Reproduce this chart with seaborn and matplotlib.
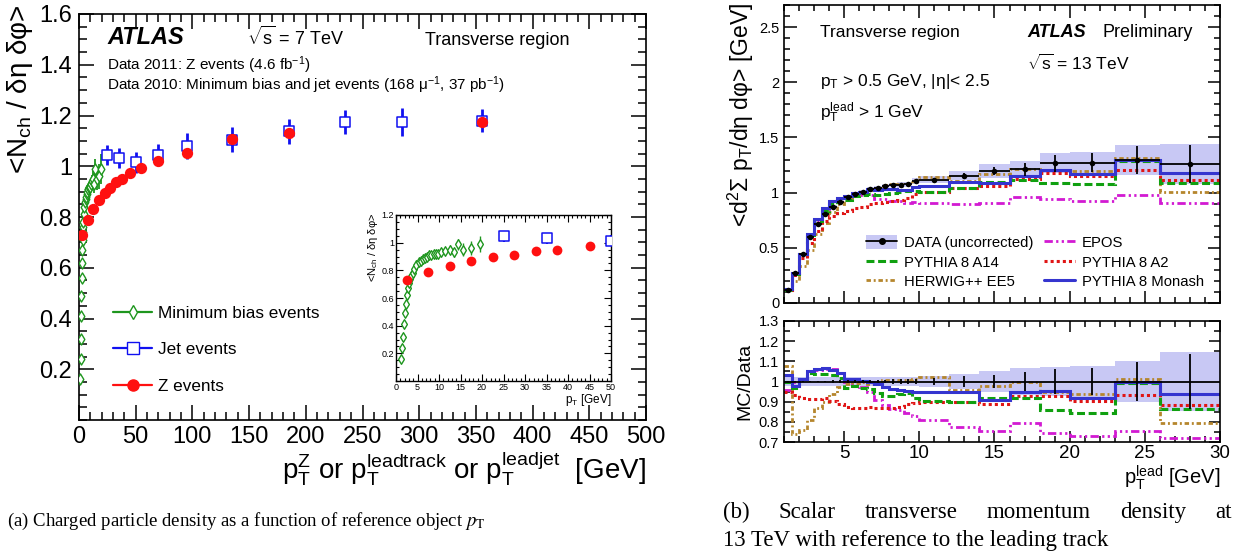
import numpy as np
import matplotlib
matplotlib.use("Agg")
import matplotlib.pyplot as plt
from matplotlib.lines import Line2D
from matplotlib.patches import Patch
from matplotlib.ticker import MultipleLocator, FormatStrFormatter
import seaborn as sns

# ---- (a) charged particle density, 7 TeV ----
mb_pt = [1.1, 1.35, 1.6, 1.85, 2.1, 2.35, 2.6, 2.85, 3.1, 3.35, 3.6, 3.85, 4.25, 4.75,
         5.25, 5.75, 6.25, 6.75, 7.25, 7.75, 8.25, 8.75, 9.25, 9.75, 10.5, 11.5, 12.5,
         13.5, 14.5, 15.5, 17.5, 19.5]
mb_val = [0.16, 0.24, 0.32, 0.41, 0.49, 0.56, 0.62, 0.67, 0.71, 0.74, 0.76, 0.78, 0.81, 0.84,
          0.86, 0.87, 0.88, 0.89, 0.90, 0.91, 0.91, 0.92, 0.92, 0.92, 0.93, 0.94, 0.95,
          0.93, 0.99, 0.95, 0.96, 0.99]
mb_err = [0.004, 0.004, 0.004, 0.004, 0.005, 0.005, 0.005, 0.005, 0.006, 0.006, 0.006, 0.006,
          0.007, 0.008, 0.009, 0.010, 0.011, 0.012, 0.013, 0.014, 0.015, 0.016, 0.017, 0.018,
          0.020, 0.025, 0.030, 0.035, 0.040, 0.045, 0.050, 0.060]

jet_pt = [25, 35, 50, 70, 95, 135, 185, 235, 285, 355]
jet_val = [1.045, 1.033, 1.015, 1.045, 1.08, 1.105, 1.138, 1.175, 1.175, 1.18]
jet_err = [0.04, 0.04, 0.04, 0.043, 0.05, 0.05, 0.05, 0.046, 0.056, 0.046]

z_pt = [2.5, 7.5, 12.5, 17.5, 22.5, 27.5, 32.5, 37.5, 45, 55, 70, 95, 135, 185, 355]
z_val = [0.728, 0.787, 0.832, 0.866, 0.896, 0.913, 0.937, 0.948, 0.974, 0.994, 1.021,
         1.054, 1.106, 1.133, 1.174]

# ---- (b) scalar pT density, 13 TeV ----
bin_edges = [1, 1.5, 2, 2.5, 3, 3.5, 4, 4.5, 5, 5.5, 6, 6.5, 7, 7.5, 8, 8.5, 9, 9.5, 10,
             12, 14, 16, 18, 20, 23, 26, 30]
data_val = [0.121, 0.273, 0.442, 0.594, 0.715, 0.806, 0.873, 0.918, 0.958, 0.988, 1.006,
            1.03, 1.04, 1.06, 1.07, 1.07, 1.076, 1.106, 1.115, 1.153, 1.196, 1.211, 1.265,
            1.271, 1.295, 1.259]
data_stat_rel = [0.004, 0.004, 0.004, 0.004, 0.004, 0.004, 0.005, 0.005, 0.005, 0.006, 0.006,
                 0.007, 0.008, 0.009, 0.010, 0.011, 0.012, 0.013, 0.015, 0.025, 0.033, 0.048,
                 0.062, 0.069, 0.097, 0.138]
data_band_rel = [0.02, 0.02, 0.02, 0.02, 0.02, 0.02, 0.02, 0.02, 0.02, 0.02, 0.02, 0.02, 0.02,
                 0.02, 0.02, 0.022, 0.022, 0.024, 0.028, 0.036, 0.053, 0.065, 0.072, 0.078,
                 0.103, 0.144]

ratio_monash = [1.03, 0.98, 1.01, 1.05, 1.06, 1.065, 1.056, 1.04, 1.012, 1.012, 1.003, 1.0,
                0.987, 0.975, 0.962, 0.957, 0.953, 0.95, 0.95, 0.95, 0.907, 0.95, 0.954,
                0.917, 1.0, 0.937]
ratio_a14 = [1.0, 0.97, 1.01, 1.04, 1.036, 1.036, 1.03, 1.017, 0.97, 0.978, 0.97, 0.962,
             0.945, 0.93, 0.93, 0.94, 0.945, 0.92, 0.905, 0.90, 0.917, 0.917, 0.857, 0.846,
             0.995, 0.862]
ratio_a2 = [0.95, 0.934, 0.917, 0.912, 0.912, 0.917, 0.904, 0.887, 0.874, 0.867, 0.867, 0.874,
            0.87, 0.867, 0.867, 0.874, 0.887, 0.895, 0.9, 0.9, 0.89, 0.929, 0.929, 0.904,
            0.934, 0.882]
ratio_ee5 = [1.075, 0.74, 0.76, 0.81, 0.87, 0.90, 0.94, 0.975, 0.99, 0.995, 1.0, 0.99, 1.0,
             1.005, 1.005, 1.005, 1.005, 1.01, 1.023, 0.957, 0.978, 1.0, 0.95, 0.94, 1.012,
             0.796]
ratio_epos = [0.96, 1.0, 1.01, 1.05, 1.055, 1.06, 1.06, 1.04, 1.0, 0.99, 0.975, 0.95, 0.91,
              0.885, 0.865, 0.86, 0.845, 0.83, 0.81, 0.775, 0.755, 0.796, 0.746, 0.73, 0.755,
              0.72]

GREEN, BLUE, RED = "#1e961e", "#1010f0", "#ff1010"
C_MONASH, C_A14, C_A2, C_EE5, C_EPOS = "#3535cf", "#10a010", "#e01515", "#b5862d", "#d21ad2"
BAND = "#c8c8f4"

sns.set_theme(style="ticks", rc={
    "axes.edgecolor": "black", "text.color": "black", "xtick.color": "black",
    "ytick.color": "black", "axes.labelcolor": "black", "axes.linewidth": 1.2,
})
plt.rcParams["font.family"] = ["Liberation Sans", "DejaVu Sans"]
plt.rcParams["mathtext.fontset"] = "custom"
plt.rcParams["mathtext.rm"] = "Liberation Sans"
plt.rcParams["mathtext.it"] = "Liberation Sans:italic"
plt.rcParams["mathtext.bf"] = "Liberation Sans:bold"

W, H = 1245, 556


def fx(px):
    return px / W


def fy(py):
    return 1 - py / H


fig = plt.figure(figsize=(W / 100, H / 100), dpi=100)

axL = fig.add_axes([fx(79), fy(420), (646 - 79) / W, (420 - 14) / H])
axI = fig.add_axes([fx(396), fy(381), (611 - 396) / W, (381 - 215) / H])
axT = fig.add_axes([fx(784), fy(303), (1220 - 784) / W, (303 - 5) / H])
axR = fig.add_axes([fx(784), fy(442), (1220 - 784) / W, (442 - 321) / H])


def root_ticks(ax, size, major, minor, width=1.1):
    ax.tick_params(which="both", direction="in", top=True, right=True, width=width,
                   labelsize=size)
    ax.tick_params(which="major", length=major)
    ax.tick_params(which="minor", length=minor)


def left_points(ax, k):
    ax.errorbar(mb_pt, mb_val, yerr=mb_err, fmt="none", ecolor=GREEN, elinewidth=1.3 * k,
                zorder=2)
    sns.scatterplot(x=mb_pt, y=mb_val, marker="d", s=32 * k, fc="white", ec=GREEN,
                    linewidth=1.0, ax=ax, zorder=3, legend=False)
    ax.errorbar(jet_pt, jet_val, yerr=jet_err, fmt="none", ecolor=BLUE, elinewidth=2.0 * k,
                zorder=2)
    sns.scatterplot(x=jet_pt, y=jet_val, marker="s", s=62 * k, fc="white", ec=BLUE,
                    linewidth=1.1, ax=ax, zorder=3, legend=False)
    sns.scatterplot(x=z_pt, y=z_val, marker="o", s=66 * k, color=RED, linewidth=0,
                    ax=ax, zorder=4, legend=False)


# ---- left panel ----
left_points(axL, 1.0)
axL.set_xlim(0, 500)
axL.set_ylim(0, 1.6)
axL.xaxis.set_major_locator(MultipleLocator(50))
axL.xaxis.set_minor_locator(MultipleLocator(10))
axL.set_yticks([0.2, 0.4, 0.6, 0.8, 1.0, 1.2, 1.4, 1.6])
axL.yaxis.set_minor_locator(MultipleLocator(0.05))
axL.yaxis.set_major_formatter(FormatStrFormatter("%g"))
root_ticks(axL, 17, 11, 6)
axL.tick_params(axis="x", pad=4)
axL.tick_params(axis="y", pad=5)
axL.set_xlabel("")
axL.set_ylabel("")

h_mb = Line2D([], [], color=GREEN, marker="d", mfc="white", mec=GREEN, ms=7, lw=1.6)
h_jet = Line2D([], [], color=BLUE, marker="s", mfc="white", mec=BLUE, ms=8, lw=1.6)
h_z = Line2D([], [], color=RED, marker="o", mec=RED, ms=8, lw=1.6)
axL.legend([h_mb, h_jet, h_z], ["Minimum bias events", "Jet events", "Z events"],
           loc="upper left", bbox_to_anchor=((113 - 79) / 567, (420 - 306) / 406),
           frameon=False, fontsize=12.3, handlelength=2.3, labelspacing=1.25,
           handletextpad=0.35, borderaxespad=0, borderpad=0)

# ---- inset ----
left_points(axI, 0.75)
axI.set_xlim(0, 50)
axI.set_ylim(0, 1.2)
axI.xaxis.set_major_locator(MultipleLocator(5))
axI.xaxis.set_minor_locator(MultipleLocator(1))
axI.set_yticks([0.2, 0.4, 0.6, 0.8, 1.0, 1.2])
axI.yaxis.set_minor_locator(MultipleLocator(0.05))
axI.yaxis.set_major_formatter(FormatStrFormatter("%g"))
root_ticks(axI, 6.5, 5, 2.5, width=0.8)
axI.tick_params(pad=1.5)
axI.set_xlabel("")
axI.set_ylabel("")
for s in axI.spines.values():
    s.set_linewidth(1.0)

# ---- right top panel ----
edges = np.array(bin_edges)
centers = (edges[:-1] + edges[1:]) / 2
half = np.diff(edges) / 2
data = np.array(data_val)
band = np.array(data_band_rel)
stat = np.array(data_stat_rel)

mc_models = [
    (ratio_epos, C_EPOS, (0, (3, 1.2, 0.8, 1.2, 0.8, 1.2)), 2.0),
    (ratio_ee5, C_EE5, (0, (1.6, 1.0, 0.7, 1.0)), 2.0),
    (ratio_a2, C_A2, (0, (1, 1)), 2.2),
    (ratio_a14, C_A14, (0, (2.6, 1.2)), 2.2),
    (ratio_monash, C_MONASH, "-", 2.2),
]

axT.stairs(data * (1 + band), edges, baseline=data * (1 - band), fill=True, color=BAND,
           lw=0, zorder=1)
for r, c, ls, lw in mc_models:
    axT.stairs(data * np.array(r), edges, baseline=None, color=c, ls=ls, lw=lw, zorder=2)
axT.errorbar(centers, data, xerr=half, yerr=data * stat, fmt="none", ecolor="black",
             elinewidth=1.3, zorder=4)
sns.scatterplot(x=centers, y=data, color="black", s=16, linewidth=0, ax=axT, zorder=5,
                legend=False)
axT.set_xlim(1, 30)
axT.set_ylim(0, 2.7)
axT.xaxis.set_major_locator(MultipleLocator(5))
axT.xaxis.set_minor_locator(MultipleLocator(1))
axT.yaxis.set_major_locator(MultipleLocator(0.5))
axT.yaxis.set_minor_locator(MultipleLocator(0.1))
axT.yaxis.set_major_formatter(FormatStrFormatter("%g"))
root_ticks(axT, 10.5, 9, 4.5)
axT.tick_params(axis="x", labelbottom=False)
axT.set_xlabel("")
axT.set_ylabel("")

h_data = (Patch(facecolor=BAND, edgecolor="none"),
          Line2D([], [], color="black", marker="o", ms=4, lw=1.3))
handles = [h_data,
           Line2D([], [], color=C_A14, ls=(0, (2.6, 1.2)), lw=2.2),
           Line2D([], [], color=C_EE5, ls=(0, (1.6, 1.0, 0.7, 1.0)), lw=2.0),
           Line2D([], [], color=C_EPOS, ls=(0, (3, 1.2, 0.8, 1.2, 0.8, 1.2)), lw=2.0),
           Line2D([], [], color=C_A2, ls=(0, (1, 1)), lw=2.2),
           Line2D([], [], color=C_MONASH, lw=2.2)]
labels = ["DATA (uncorrected)", "PYTHIA 8 A14", "HERWIG++ EE5", "EPOS", "PYTHIA 8 A2",
          "PYTHIA 8 Monash"]
axT.legend(handles, labels, ncol=2, loc="upper left",
           bbox_to_anchor=((866 - 784) / 436, (303 - 235) / 298), frameon=False,
           fontsize=10.7, handlelength=2.1, handleheight=1.1, labelspacing=0.3,
           handletextpad=0.45, columnspacing=0.7, borderaxespad=0, borderpad=0)

# ---- ratio panel ----
axR.stairs(1 + band, edges, baseline=1 - band, fill=True, color=BAND, lw=0, zorder=1)
axR.axhline(1, color="black", lw=1.3, zorder=3)
axR.errorbar(centers, np.ones_like(centers), yerr=stat, fmt="none", ecolor="black",
             elinewidth=1.3, zorder=4)
for r, c, ls, lw in mc_models:
    axR.stairs(r, edges, baseline=None, color=c, ls=ls, lw=lw, zorder=2)
axR.set_xlim(1, 30)
axR.set_ylim(0.7, 1.3)
axR.xaxis.set_major_locator(MultipleLocator(5))
axR.xaxis.set_minor_locator(MultipleLocator(1))
axR.set_yticks([0.7, 0.8, 0.9, 1.0, 1.1, 1.2, 1.3])
axR.yaxis.set_minor_locator(MultipleLocator(0.05))
axR.yaxis.set_major_formatter(FormatStrFormatter("%g"))
root_ticks(axR, 10.5, 8, 4)
axR.tick_params(axis="x", labelsize=13.5, pad=2)
axR.set_xlabel("")
axR.set_ylabel("")

# ---- texts, left panel ----
PT = r"$\mathrm{p}_{\mathrm{T}}$"
fig.text(fx(20), fy(4), r"<N$_{\mathrm{ch}}$ / δη δφ>", rotation=90, ha="center", va="top",
         fontsize=20)
fig.text(fx(646), fy(478),
         r"$\mathrm{p}_{\mathrm{T}}^{\mathrm{Z}}$ or $\mathrm{p}_{\mathrm{T}}^{\mathrm{leadtrack}}$"
         r" or $\mathrm{p}_{\mathrm{T}}^{\mathrm{leadjet}}$  [GeV]",
         ha="right", va="baseline", fontsize=20)
fig.text(fx(107), fy(44), "ATLAS", fontsize=17, fontweight="bold", fontstyle="italic",
         va="baseline")
fig.text(fx(247), fy(45), r"$\sqrt{\mathrm{s}}$ = 7 TeV", fontsize=13, va="baseline")
fig.text(fx(425), fy(45), "Transverse region", fontsize=13, va="baseline")
fig.text(fx(107), fy(70), r"Data 2011: Z events (4.6 fb$^{\mathrm{-1}}$)", fontsize=11,
         va="baseline")
fig.text(fx(107), fy(90),
         r"Data 2010: Minimum bias and jet events (168 μ$^{\mathrm{-1}}$, 37 pb$^{\mathrm{-1}}$)",
         fontsize=11, va="baseline")
fig.text(fx(373), fy(213), r"<N$_{\mathrm{ch}}$ / δη δφ>", rotation=90, ha="center",
         va="top", fontsize=8)
fig.text(fx(611), fy(403), PT + " [GeV]", ha="right", va="baseline", fontsize=8.5)

# ---- texts, right panel ----
fig.text(fx(741), fy(3), r"<d$^{2}$Σ p$_{\mathrm{T}}$/dη dφ> [GeV]", rotation=90,
         ha="center", va="top", fontsize=16.5)
fig.text(fx(745), fy(381), "MC/Data", rotation=90, ha="center", va="center", fontsize=14)
fig.text(fx(1220), fy(484), r"$\mathrm{p}_{\mathrm{T}}^{\mathrm{lead}}$ [GeV]", ha="right",
         va="baseline", fontsize=14.5)
fig.text(fx(820), fy(37), "Transverse region", fontsize=12.5, va="baseline")
fig.text(fx(1027), fy(37), "ATLAS", fontsize=13, fontweight="bold", fontstyle="italic",
         va="baseline")
fig.text(fx(1102), fy(37), "Preliminary", fontsize=13, va="baseline")
fig.text(fx(1027), fy(70), r"$\sqrt{\mathrm{s}}$ = 13 TeV", fontsize=12.5, va="baseline")
fig.text(fx(820), fy(86), PT + r" > 0.5 GeV, |η|< 2.5", fontsize=12.5, va="baseline")
fig.text(fx(820), fy(118), r"$\mathrm{p}_{\mathrm{T}}^{\mathrm{lead}}$ > 1 GeV",
         fontsize=12.5, va="baseline")

# ---- captions ----
cap = dict(family=["Liberation Serif", "DejaVu Serif"], fontsize=13.5, va="baseline",
           math_fontfamily="stix")
fig.text(fx(7), fy(526), r"(a) Charged particle density as a function of reference object $p_\mathrm{T}$",
         **cap)
cap_b = dict(cap, fontsize=16.5)


def justified(py, words, x0, x1):
    texts = [fig.text(fx(x0), fy(py), w, **cap_b) for w in words]
    rend = fig.canvas.get_renderer()
    widths = [t.get_window_extent(rend).width for t in texts]
    gap = ((x1 - x0) - sum(widths)) / (len(words) - 1)
    x = x0
    for t, w in zip(texts, widths):
        t.set_x(fx(x))
        x += w + gap


justified(518, ["(b)", "Scalar", "transverse", "momentum", "density", "at"], 723, 1232)
fig.text(fx(723), fy(546), "13 TeV with reference to the leading track", **cap_b)

fig.savefig("out.png", dpi=100)
